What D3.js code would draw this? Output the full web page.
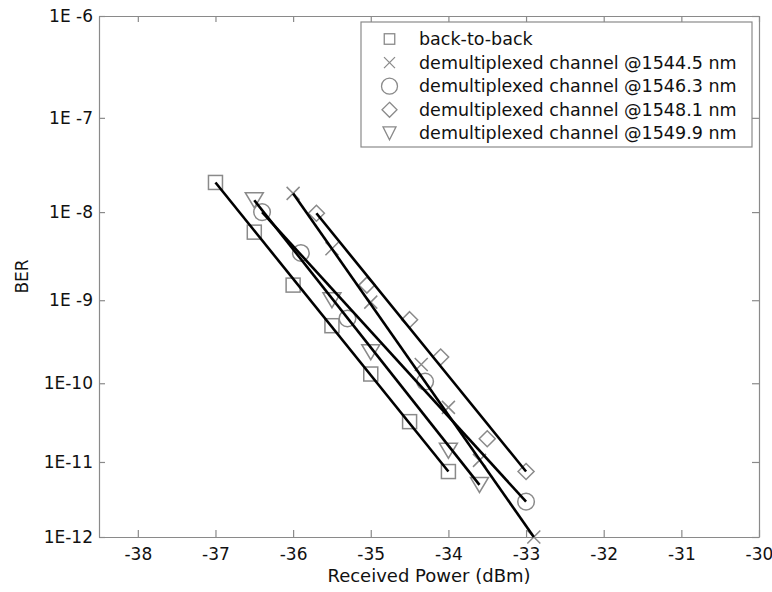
<!DOCTYPE html>
<html>
  <head>
    <meta charset="utf-8">
    <title>BER vs Received Power</title>
    <script src="https://d3js.org/d3.v7.min.js"></script>
    <style type="text/css">
    body { margin: 0; background: #fff; }
    text { font-family: "DejaVu Sans", sans-serif; fill: #111; }
    </style>
  </head>
  <body>
  <script type="text/javascript">

    // data: received power (dBm) and BER
    var b2bPower = [-37, -36.5, -36, -35.5, -35, -34.5, -34];
    var b2bBer   = [2.1e-8, 6e-9, 1.5e-9, 5e-10, 1.3e-10, 3.3e-11, 7.5e-12];

    var ch1Power = [-36, -35.5, -35, -34.35, -34, -33.6, -32.9];
    var ch1Ber   = [1.6e-8, 3.9e-9, 9.5e-10, 1.7e-10, 5e-11, 1.05e-11, 1e-12];

    var ch2Power = [-36.4, -35.9, -35.3, -34.3, -33];
    var ch2Ber   = [1e-8, 3.5e-9, 6.1e-10, 1.05e-10, 3e-12];

    var ch3Power = [-35.7, -35.05, -34.5, -34.1, -33.5, -33];
    var ch3Ber   = [9.7e-9, 1.5e-9, 5.9e-10, 2.1e-10, 2e-11, 7.5e-12];

    var ch4Power = [-36.5, -35.5, -35, -34, -33.6];
    var ch4Ber   = [1.35e-8, 1e-9, 2.4e-10, 1.4e-11, 5e-12];

    var seriesNames = ["back-to-back",
                       "demultiplexed channel @1544.5 nm",
                       "demultiplexed channel @1546.3 nm",
                       "demultiplexed channel @1548.1 nm",
                       "demultiplexed channel @1549.9 nm"];
    var seriesMarkers = ["square", "cross", "circle", "diamond", "triangle"];

    var xTicks = [-38, -37, -36, -35, -34, -33, -32, -31, -30];
    var yTicks = [1e-6, 1e-7, 1e-8, 1e-9, 1e-10, 1e-11, 1e-12];
    var yTickLabels = ["1E -6", "1E -7", "1E -8", "1E -9", "1E-10", "1E-11", "1E-12"];

    var series = [
      {power: b2bPower, ber: b2bBer},
      {power: ch1Power, ber: ch1Ber},
      {power: ch2Power, ber: ch2Ber},
      {power: ch3Power, ber: ch3Ber},
      {power: ch4Power, ber: ch4Ber}
    ];

    // the BER axis is a Q-factor (gaussian) scale: BER = 0.5 erfc(Q/sqrt2)
    function erfc(z) {
      var t = 1 / (1 + 0.5 * z);
      return t * Math.exp(-z * z - 1.26551223 + t * (1.00002368 + t * (0.37409196 + t * (0.09678418 +
        t * (-0.18628806 + t * (0.27886807 + t * (-1.13520398 + t * (1.48851587 +
        t * (-0.82215223 + t * 0.17087277)))))))));
    }
    function qOf(ber) {
      var lo = 0, hi = 12, target = Math.log(ber);
      for (var i = 0; i < 80; i++) {
        var mid = (lo + hi) / 2;
        if (Math.log(0.5 * erfc(mid / Math.SQRT2)) > target) lo = mid; else hi = mid;
      }
      return (lo + hi) / 2;
    }

    var plotLeft = 99, plotRight = 759, plotTop = 16, plotBottom = 537;

    var svg = d3.select("body").append("svg")
      .attr("width", 772)
      .attr("height", 592);

    var x = d3.scaleLinear().domain([-38.5, -30]).range([plotLeft, plotRight]);
    var yq = d3.scaleLinear().domain([qOf(1e-6), qOf(1e-12)]).range([plotTop, plotBottom]);
    var y = function(ber) { return yq(qOf(ber)); };

    // axes (ticks pointing inward on all four sides)
    var yTickQ = yTicks.map(qOf);

    svg.append("g")
      .attr("transform", "translate(0," + plotBottom + ")")
      .call(d3.axisBottom(x).tickValues(xTicks).tickSizeInner(-7).tickSizeOuter(0).tickPadding(11)
        .tickFormat(function(d) { return d; }));

    svg.append("g")
      .attr("transform", "translate(0," + plotTop + ")")
      .call(d3.axisTop(x).tickValues(xTicks).tickSizeInner(-6).tickSizeOuter(0).tickFormat(""));

    svg.append("g")
      .attr("transform", "translate(" + plotLeft + ",0)")
      .call(d3.axisLeft(yq).tickValues(yTickQ).tickSizeInner(-6).tickSizeOuter(0).tickPadding(6)
        .tickFormat(function(d, i) { return yTickLabels[i]; }));

    svg.append("g")
      .attr("transform", "translate(" + plotRight + ",0)")
      .call(d3.axisRight(yq).tickValues(yTickQ).tickSizeInner(-7).tickSizeOuter(0).tickFormat(""));

    svg.selectAll(".domain, .tick line").attr("stroke", "#8a8a8a").attr("stroke-width", 1.2);
    svg.selectAll(".tick text").style("font-size", "17px").attr("fill", "#111");

    svg.append("text")
      .attr("x", (plotLeft + plotRight) / 2)
      .attr("y", 582)
      .attr("text-anchor", "middle")
      .style("font-size", "18px")
      .text("Received Power (dBm)");

    svg.append("text")
      .attr("transform", "translate(28," + ((plotTop + plotBottom) / 2) + ") rotate(-90)")
      .attr("text-anchor", "middle")
      .style("font-size", "17px")
      .text("BER");

    // marker shapes
    function drawMarker(g, kind, cx, cy, s) {
      if (kind == "square") {
        g.append("rect").attr("x", cx - s.sq / 2).attr("y", cy - s.sq / 2)
          .attr("width", s.sq).attr("height", s.sq);
      } else if (kind == "cross") {
        g.append("path").attr("d", "M" + (cx - s.cr) + "," + (cy - s.cr) + "L" + (cx + s.cr) + "," + (cy + s.cr) +
          "M" + (cx - s.cr) + "," + (cy + s.cr) + "L" + (cx + s.cr) + "," + (cy - s.cr));
      } else if (kind == "circle") {
        g.append("circle").attr("cx", cx).attr("cy", cy).attr("r", s.ci);
      } else if (kind == "diamond") {
        g.append("path").attr("d", "M" + cx + "," + (cy - s.di) + "L" + (cx + s.di) + "," + cy +
          "L" + cx + "," + (cy + s.di) + "L" + (cx - s.di) + "," + cy + "Z");
      } else {
        g.append("path").attr("d", "M" + (cx - s.tw) + "," + (cy - s.th) + "L" + (cx + s.tw) + "," + (cy - s.th) +
          "L" + cx + "," + (cy + s.th) + "Z");
      }
    }

    var plotSize = {sq: 14, cr: 6.5, ci: 8.3, di: 8, tw: 9, th: 7.5};
    var legendSize = {sq: 10.5, cr: 5.5, ci: 8, di: 7.5, tw: 6.5, th: 6.5};

    var markers = svg.append("g")
      .attr("fill", "none")
      .attr("stroke", "#8a8a8a")
      .attr("stroke-width", 1.5);

    series.forEach(function(s, k) {
      s.power.forEach(function(p, i) {
        drawMarker(markers, seriesMarkers[k], x(p), y(s.ber[i]), plotSize);
      });
    });

    // straight fit lines from first to last measured point
    var line = d3.line()
      .x(function(d) { return x(d[0]); })
      .y(function(d) { return y(d[1]); });

    series.forEach(function(s) {
      var n = s.power.length - 1;
      svg.append("path")
        .datum([[s.power[0], s.ber[0]], [s.power[n], s.ber[n]]])
        .attr("d", line)
        .attr("fill", "none")
        .attr("stroke", "#000")
        .attr("stroke-width", 2.6);
    });

    // legend
    var legend = svg.append("g");
    legend.append("rect")
      .attr("x", 361).attr("y", 22)
      .attr("width", 391).attr("height", 125)
      .attr("fill", "#fff")
      .attr("stroke", "#8a8a8a")
      .attr("stroke-width", 1.2);

    var legendMarks = legend.append("g")
      .attr("fill", "none")
      .attr("stroke", "#8a8a8a")
      .attr("stroke-width", 1.3);

    seriesNames.forEach(function(name, k) {
      var cy = 39 + k * 23.6;
      drawMarker(legendMarks, seriesMarkers[k], 389.5, cy, legendSize);
      legend.append("text")
        .attr("x", 419)
        .attr("y", cy + 6)
        .style("font-size", "17.5px")
        .text(name);
    });

  </script>
  </body>
</html>
